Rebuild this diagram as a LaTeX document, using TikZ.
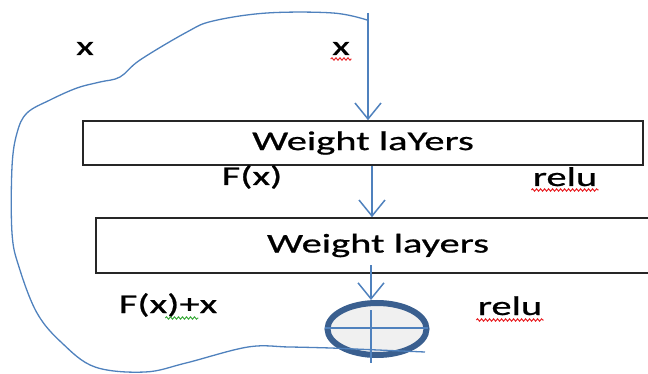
\documentclass[tikz,border=0pt]{standalone}
\usepackage{fontspec}
\setmainfont{Carlito}[FakeStretch=1.5,FakeBold=0.8]
\usetikzlibrary{arrows.meta,positioning,calc,shapes.geometric,decorations.pathmorphing}
\definecolor{lineBlue}{HTML}{4F81BD}
\definecolor{sumBlue}{HTML}{3A5F8F}
\definecolor{sumFill}{HTML}{F0F0F0}
\definecolor{spellRed}{HTML}{E8262A}
\definecolor{spellGreen}{HTML}{3BAA3B}

\begin{document}
\begin{tikzpicture}[x=1pt, y=-1pt, font=\fontsize{27}{32}\selectfont,
  layer/.style={draw=black!85, line width=1.6pt, inner sep=0pt},
  flow/.style={lineBlue, line width=1.5pt, -{Straight Barb[length=16pt,width=26pt,line width=1.5pt]}},
  squiggle/.style={line width=1pt, decorate, decoration={snake, amplitude=1.2pt, segment length=4pt}}]
  \useasboundingbox (0,0) rectangle (648,374);
  % layers
  \node[layer, minimum width=560pt, minimum height=44pt] (wl1) at (363,143) {Weight laYers};
  \node[layer, minimum width=564pt, minimum height=55pt] (wl2) at (378,245.5) {Weight layers};
  % sum
  \node[ellipse, draw=sumBlue, fill=sumFill, line width=6pt, inner sep=0pt,
        minimum width=99pt, minimum height=52pt] (add) at (377,329) {};
  \draw[lineBlue, line width=1.5pt] (325,328) -- (428,328) (371,310) -- (371,363);
  % labels
  \node[anchor=base] (xl) at (85,55) {x};
  \node[anchor=base] (xr) at (341,55) {x};
  \node[anchor=base] (fx) at (252,185) {F(x)};
  \node[anchor=base] (relu1) at (565,186) {relu};
  \node[anchor=base] (fxx) at (168,313) {F(x)+x};
  \node[anchor=base] (relu2) at (510,315) {relu};
  % spell marks
  \draw[spellRed, squiggle] ($(xr.base west)+(2,4)$) -- ($(xr.base east)+(-2,4)$);
  \draw[spellRed, squiggle] ($(relu1.base west)+(2,4)$) -- ($(relu1.base east)+(-2,4)$);
  \draw[spellRed, squiggle] ($(relu2.base west)+(2,5)$) -- ($(relu2.base east)+(-2,5)$);
  \draw[spellGreen, squiggle] ($(fxx.base west)+(50,5)$) -- ($(fxx.base west)+(83,5)$);
  % flow
  \coordinate (xin) at (368,13);
  \coordinate (mid) at (372,166);
  \coordinate (out) at (371,265);
  \draw[flow] (xin) -- (xin |- wl1.north);
  \draw[flow] (mid |- wl1.south) -- (mid |- wl2.north);
  \draw[flow] (out) -- (out |- add.north);
  % skip
  \draw[lineBlue, line width=1.3pt] plot[smooth, tension=0.6] coordinates {(367,20) (333,13) (267,13)
    (213,21) (187,32) (140,60) (120,77) (100,82) (77,88) (50,100) (27,113) (17,133) (12,167)
    (12,233) (19,267) (37,313) (62,343) (95,367) (145,372) (186,363) (248,347) (289,347) (331,348)}
    -- (425,352);
\end{tikzpicture}
\end{document}
